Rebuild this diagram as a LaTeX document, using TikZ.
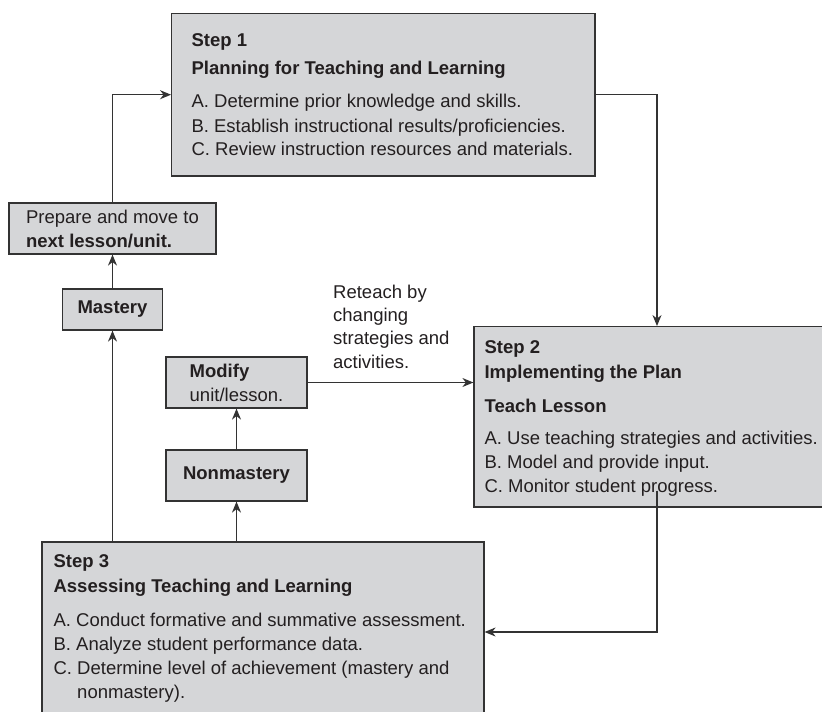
\documentclass[tikz,border=0pt]{standalone}
\usepackage{fontspec}
\setmainfont{Liberation Sans}
\usetikzlibrary{arrows.meta}
\definecolor{boxgray}{HTML}{D5D6D8}
\definecolor{linegray}{HTML}{333333}
\definecolor{inkgray}{HTML}{231F20}
\begin{document}
\begin{tikzpicture}[x=1pt,y=-1pt]
    \tikzset{
        box/.style={draw=linegray, line width=1.2pt, fill=boxgray, rectangle, inner sep=0pt, align=left, text=inkgray, font=\fontsize{18.5}{24}\selectfont},
        boxtext/.style={anchor=north west, inner sep=0pt, align=left, text=inkgray, font=\fontsize{18.5}{24.5}\selectfont},
        flow/.style={draw=linegray, line width=1.2pt, -{Stealth[length=11pt,width=9pt,inset=3.5pt]}}
    }
    \useasboundingbox (0,0) rectangle (822,712);
    \clip (0,0) rectangle (822,712);

    % the three steps
    \draw node[box, minimum width=423.3pt, minimum height=162.7pt] (plan) at (383.3,94.7) {};
    \draw node[box, minimum width=366pt, minimum height=180.3pt] (teach) at (657,416.8) {};
    \draw node[box, minimum width=442pt, minimum height=180pt] (assess) at (263,632) {};

    \node[boxtext, xshift=20.3pt] (plantext) at (plan.north west) {\rule{0pt}{33.4pt}\textbf{Step 1}\\[3.8pt]
        \textbf{Planning for Teaching and Learning}\\[8.8pt]
        A. Determine prior knowledge and skills.\\
        B. Establish instructional results/proficiencies.\\[-1pt]
        C. Review instruction resources and materials.};
    \node[boxtext, xshift=11pt] (teachtext) at (teach.north west) {\rule{0pt}{27.3pt}\textbf{Step 2}\\[0.5pt]
        \textbf{Implementing the Plan}\\[9.5pt]
        \textbf{Teach Lesson}\\[7.5pt]
        A. Use teaching strategies and activities.\\[-0.5pt]
        B. Model and provide input.\\[-0.5pt]
        C. Monitor student progress.};
    \node[boxtext, xshift=12pt] (assesstext) at (assess.north west) {\rule{0pt}{25.7pt}\textbf{Step 3}\\[1pt]
        \textbf{Assessing Teaching and Learning}\\[9pt]
        A. Conduct formative and summative assessment.\\
        B. Analyze student performance data.\\[-0.5pt]
        C. Determine level of achievement (mastery and\\[-0.5pt]
        \phantom{C.\ }nonmastery).};

    % small boxes
    \draw node[box, minimum width=207pt, minimum height=51pt] (prep) at (112.5,228.5) {Prepare and move to\\\textbf{next lesson/unit.}};
    \draw node[box, minimum width=100pt, minimum height=41pt] (mastery) at (112.5,309.5) {\textbf{Mastery}};
    \draw node[box, minimum width=141pt, minimum height=51pt] (modify) at (236.5,382.5) {\textbf{Modify}\\unit/lesson.};
    \draw node[box, minimum width=141pt, minimum height=51pt] (nonmastery) at (236.5,475.5) {\textbf{Nonmastery}};

    \node[boxtext, font=\fontsize{18.5}{23.3}\selectfont] (reteach) at (333,280) {\rule{0pt}{18pt}Reteach by\\changing\\strategies and\\activities.};

    % arrows
    \draw[flow] (prep.north) |- (plan.west);
    \draw[flow] (plan.east) -| (teach.north);
    \draw[flow] ([yshift=17pt]teach.south) |- (assess.east);
    \draw[flow] (modify.east) -- (modify.east -| teach.west);
    \foreach \x/\y in {%
        mastery/prep,nonmastery/modify%
    }{
    \draw[flow] (\x.north) -- (\y.south);
    }
    \foreach \x in {mastery,nonmastery}{
    \draw[flow] (\x.south |- assess.north) -- (\x.south);
    }
\end{tikzpicture}
\end{document}
